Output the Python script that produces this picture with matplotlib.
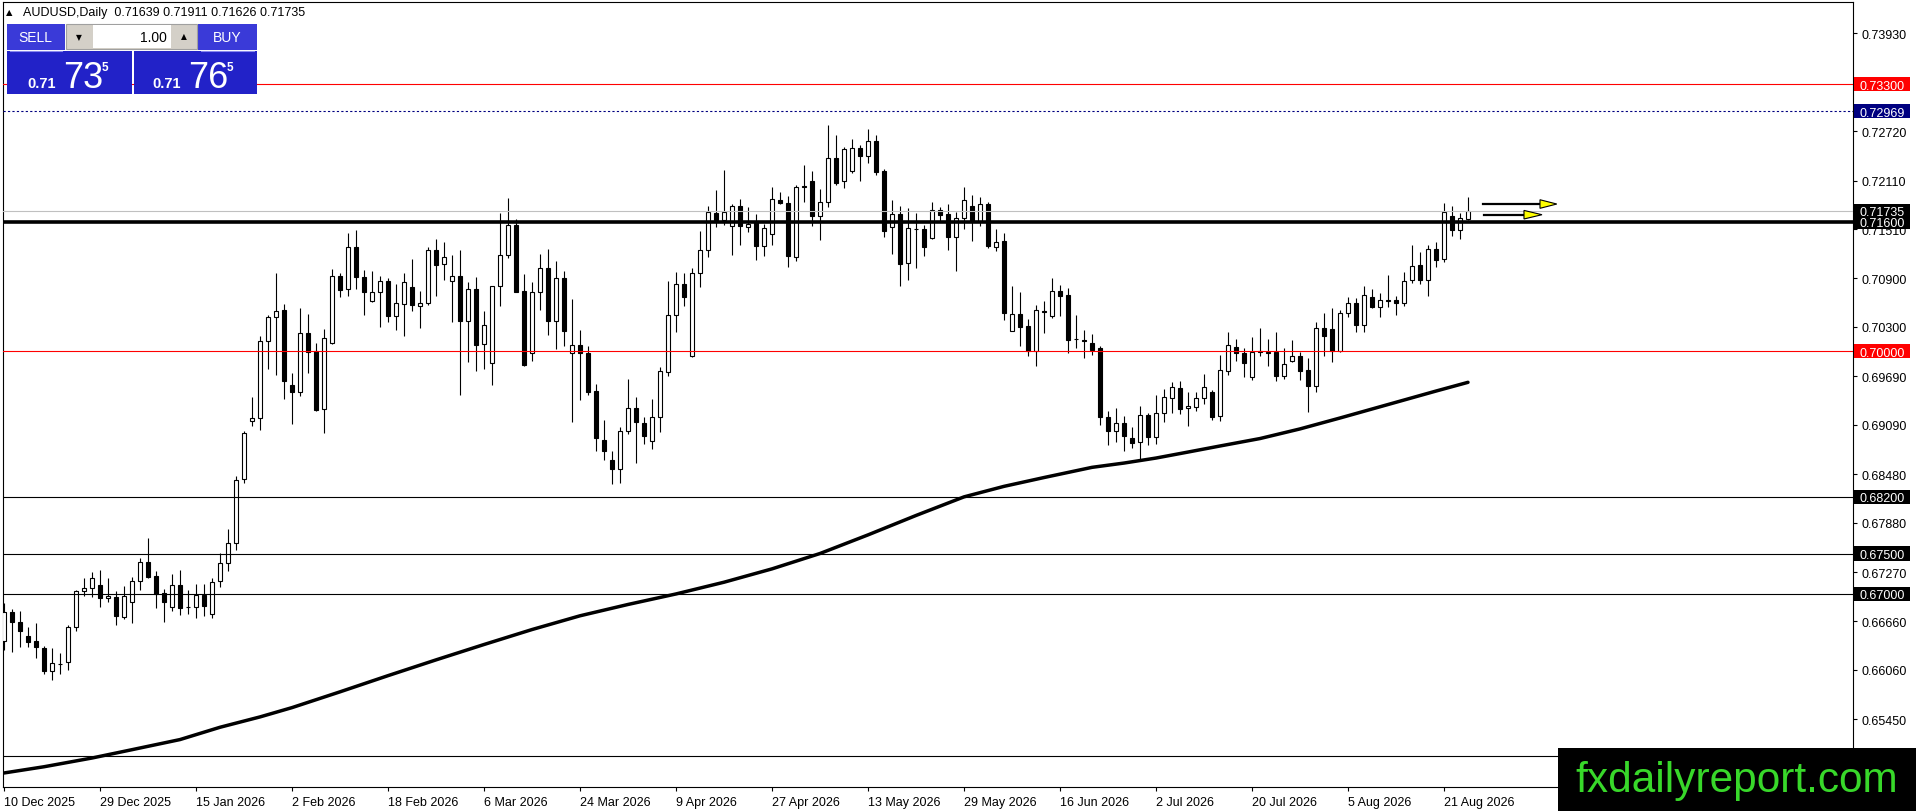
import matplotlib
matplotlib.use('Agg')
import matplotlib.pyplot as plt
from matplotlib.patches import Rectangle, Polygon
from matplotlib.transforms import blended_transform_factory
import numpy as np

plt.rcParams['font.family'] = ['Liberation Sans', 'DejaVu Sans']

# AUDUSD daily candles, first bar = 10 Dec 2025
opens = [
    0.66423, 0.66773, 0.66649, 0.66476, 0.66423, 0.66328, 0.66052, 0.66130,
    0.66155, 0.66588, 0.67033, 0.67070, 0.67111, 0.66946, 0.66958, 0.66719,
    0.66897, 0.67156, 0.67391, 0.67218, 0.67008, 0.66843, 0.67115, 0.66835,
    0.66835, 0.66987, 0.66752, 0.67156, 0.67379, 0.67626, 0.68421, 0.69142,
    0.69171, 0.70123, 0.70419, 0.70510, 0.69583, 0.69492, 0.70221, 0.69999,
    0.69286, 0.70098, 0.70934, 0.70769, 0.71284, 0.70914, 0.70617, 0.70728,
    0.70864, 0.70432, 0.70584, 0.70790, 0.70563, 0.70592, 0.71251, 0.71078,
    0.70864, 0.70926, 0.70370, 0.70769, 0.70090, 0.69855, 0.70802, 0.71189,
    0.71560, 0.70740, 0.69978, 0.70728, 0.71025, 0.70370, 0.70901, 0.69978,
    0.70081, 0.69978, 0.69504, 0.68907, 0.68656, 0.68544, 0.69010, 0.69294,
    0.69113, 0.68886, 0.69183, 0.69739, 0.70452, 0.70831, 0.69945, 0.70963,
    0.71251, 0.71704, 0.71622, 0.71544, 0.71791, 0.71531, 0.71593, 0.71297,
    0.71449, 0.71869, 0.71828, 0.71170, 0.72039, 0.72101, 0.71676, 0.71841,
    0.72385, 0.72101, 0.72233, 0.72513, 0.72418, 0.72595, 0.72224, 0.71532,
    0.71697, 0.71087, 0.71516, 0.71512, 0.71396, 0.71742, 0.71697, 0.71409,
    0.71643, 0.71792, 0.71615, 0.71821, 0.71293, 0.71363, 0.70255, 0.70461,
    0.70316, 0.70007, 0.70493, 0.70431, 0.70740, 0.70695, 0.70155, 0.70135,
    0.70102, 0.70036, 0.69183, 0.69018, 0.69113, 0.68928, 0.68882, 0.69212,
    0.68944, 0.69232, 0.69418, 0.69546, 0.69294, 0.69307, 0.69418, 0.69500,
    0.69204, 0.69760, 0.70048, 0.69974, 0.69677, 0.69999, 0.69991, 0.69987,
    0.69698, 0.69875, 0.69937, 0.69768, 0.69575, 0.70283, 0.70275, 0.70007,
    0.70469, 0.70592, 0.70329, 0.70666, 0.70551, 0.70629, 0.70633, 0.70596,
    0.70885, 0.71066, 0.70885, 0.71264, 0.71140, 0.71668, 0.71503, 0.71639,
]
highs = [
    0.66888, 0.66814, 0.66785, 0.66588, 0.66637, 0.66361, 0.66328, 0.66270,
    0.66621, 0.67049, 0.67197, 0.67276, 0.67296, 0.67197, 0.67033, 0.67094,
    0.67206, 0.67445, 0.67692, 0.67280, 0.67061, 0.67247, 0.67296, 0.67049,
    0.67123, 0.67123, 0.67197, 0.67502, 0.67803, 0.68462, 0.69010, 0.69430,
    0.70184, 0.70448, 0.70967, 0.70584, 0.69727, 0.70535, 0.70460, 0.70102,
    0.70275, 0.71017, 0.70963, 0.71462, 0.71499, 0.71004, 0.70988, 0.70926,
    0.70905, 0.70831, 0.70963, 0.71140, 0.70749, 0.71284, 0.71387, 0.71346,
    0.71190, 0.71251, 0.70852, 0.70914, 0.70493, 0.70802, 0.71709, 0.71894,
    0.71634, 0.70955, 0.70852, 0.71202, 0.71264, 0.71111, 0.70988, 0.70646,
    0.70262, 0.70061, 0.69595, 0.69150, 0.68771, 0.69059, 0.69657, 0.69430,
    0.69183, 0.69410, 0.69801, 0.70864, 0.70975, 0.70967, 0.71025, 0.71490,
    0.71799, 0.71993, 0.72240, 0.71820, 0.71882, 0.71779, 0.71696, 0.71573,
    0.72026, 0.71964, 0.71915, 0.72055, 0.72303, 0.72224, 0.72006, 0.72797,
    0.72673, 0.72521, 0.72624, 0.72550, 0.72748, 0.72673, 0.72253, 0.71870,
    0.71792, 0.71767, 0.71709, 0.71561, 0.71841, 0.71779, 0.71821, 0.71726,
    0.72035, 0.71936, 0.71903, 0.71841, 0.71512, 0.71462, 0.70803, 0.70729,
    0.70398, 0.70571, 0.70625, 0.70905, 0.70823, 0.70777, 0.70448, 0.70267,
    0.70213, 0.70061, 0.69265, 0.69298, 0.69204, 0.69059, 0.69327, 0.69232,
    0.69459, 0.69533, 0.69624, 0.69628, 0.69500, 0.69500, 0.69719, 0.69521,
    0.69953, 0.70242, 0.70151, 0.70036, 0.70172, 0.70287, 0.70151, 0.70234,
    0.70040, 0.70139, 0.69987, 0.69917, 0.70357, 0.70469, 0.70530, 0.70510,
    0.70675, 0.70654, 0.70802, 0.70769, 0.70716, 0.70942, 0.70687, 0.70975,
    0.71313, 0.71223, 0.71313, 0.71346, 0.71832, 0.71791, 0.71709, 0.71911,
]
lows = [
    0.66312, 0.66287, 0.66349, 0.66340, 0.66204, 0.66011, 0.65941, 0.66011,
    0.66064, 0.66546, 0.66979, 0.66958, 0.66843, 0.66905, 0.66621, 0.66691,
    0.66641, 0.67053, 0.67193, 0.66827, 0.66658, 0.66794, 0.66744, 0.66752,
    0.66699, 0.66732, 0.66699, 0.67090, 0.67288, 0.67548, 0.68367, 0.69080,
    0.69031, 0.69781, 0.69706, 0.69410, 0.69101, 0.69451, 0.69731, 0.69266,
    0.68990, 0.70090, 0.70666, 0.70687, 0.70769, 0.70452, 0.70605, 0.70304,
    0.70366, 0.70267, 0.70184, 0.70502, 0.70283, 0.70572, 0.70687, 0.70885,
    0.70366, 0.69463, 0.69871, 0.69760, 0.69781, 0.69587, 0.70555, 0.71148,
    0.70728, 0.69813, 0.69883, 0.70514, 0.70205, 0.70028, 0.70061, 0.69129,
    0.69401, 0.69459, 0.68771, 0.68660, 0.68359, 0.68367, 0.68977, 0.68619,
    0.68853, 0.68792, 0.69006, 0.69690, 0.70242, 0.70555, 0.69925, 0.70790,
    0.71169, 0.71540, 0.71564, 0.71194, 0.71317, 0.71470, 0.71132, 0.71173,
    0.71317, 0.71820, 0.71037, 0.71120, 0.71849, 0.71553, 0.71376, 0.71788,
    0.72055, 0.72018, 0.72204, 0.72109, 0.72327, 0.72183, 0.71417, 0.71203,
    0.70811, 0.70885, 0.71025, 0.71182, 0.71388, 0.71615, 0.71252, 0.70997,
    0.71512, 0.71367, 0.71553, 0.71273, 0.71244, 0.70391, 0.70255, 0.70070,
    0.69945, 0.69813, 0.70225, 0.70411, 0.70440, 0.69974, 0.70036, 0.69912,
    0.69958, 0.69092, 0.68845, 0.68882, 0.68771, 0.68800, 0.68668, 0.68845,
    0.68853, 0.69129, 0.69237, 0.69224, 0.69080, 0.69265, 0.69348, 0.69154,
    0.69142, 0.69706, 0.69883, 0.69686, 0.69649, 0.69945, 0.69822, 0.69636,
    0.69657, 0.69871, 0.69645, 0.69245, 0.69492, 0.69937, 0.69863, 0.69987,
    0.70419, 0.70242, 0.70242, 0.70530, 0.70419, 0.70543, 0.70452, 0.70563,
    0.70839, 0.70831, 0.70687, 0.71045, 0.71107, 0.71429, 0.71387, 0.71626,
]
closes = [
    0.66773, 0.66649, 0.66546, 0.66410, 0.66340, 0.66052, 0.66143, 0.66140,
    0.66588, 0.67033, 0.67070, 0.67193, 0.66946, 0.66971, 0.66732, 0.66971,
    0.67156, 0.67391, 0.67214, 0.67000, 0.66897, 0.67115, 0.66827, 0.66839,
    0.66991, 0.66855, 0.67144, 0.67379, 0.67626, 0.68413, 0.68985, 0.69171,
    0.70123, 0.70419, 0.70502, 0.69636, 0.69492, 0.70221, 0.69987, 0.69278,
    0.70160, 0.70934, 0.70761, 0.71284, 0.70914, 0.70736, 0.70728, 0.70872,
    0.70432, 0.70592, 0.70852, 0.70572, 0.70592, 0.71251, 0.71066, 0.71169,
    0.70934, 0.70370, 0.70769, 0.70081, 0.70324, 0.70802, 0.71189, 0.71560,
    0.70736, 0.69834, 0.70728, 0.71025, 0.70370, 0.70901, 0.70254, 0.70081,
    0.69978, 0.69500, 0.68923, 0.68763, 0.68544, 0.69010, 0.69294, 0.69121,
    0.68948, 0.69183, 0.69752, 0.70452, 0.70831, 0.70674, 0.70963, 0.71255,
    0.71717, 0.71622, 0.71717, 0.71791, 0.71544, 0.71573, 0.71297, 0.71523,
    0.71882, 0.71828, 0.71173, 0.72027, 0.72031, 0.71676, 0.71841, 0.72385,
    0.72080, 0.72500, 0.72513, 0.72410, 0.72595, 0.72220, 0.71491, 0.71697,
    0.71079, 0.71520, 0.71507, 0.71293, 0.71742, 0.71689, 0.71417, 0.71643,
    0.71870, 0.71615, 0.71821, 0.71306, 0.71347, 0.70473, 0.70461, 0.70304,
    0.70007, 0.70510, 0.70485, 0.70740, 0.70687, 0.70143, 0.70147, 0.70126,
    0.70019, 0.69183, 0.69018, 0.69113, 0.68956, 0.68866, 0.69212, 0.68944,
    0.69237, 0.69438, 0.69562, 0.69286, 0.69327, 0.69418, 0.69554, 0.69191,
    0.69768, 0.70077, 0.69974, 0.69850, 0.69986, 0.69991, 0.69982, 0.69690,
    0.69842, 0.69937, 0.69760, 0.69566, 0.70283, 0.70193, 0.69999, 0.70469,
    0.70592, 0.70329, 0.70699, 0.70551, 0.70633, 0.70621, 0.70596, 0.70864,
    0.71058, 0.70885, 0.71264, 0.71132, 0.71717, 0.71503, 0.71643, 0.71735,
]

# moving average, read at a number of bars
ma_bar = [0, 5, 11, 16, 22, 27, 32, 36, 42, 48, 54, 60, 66, 72, 78, 84, 90,
          96, 102, 108, 114, 120, 125, 130, 136, 140, 144, 148, 152, 157, 162,
          167, 171, 175, 179, 183]
ma_val = [0.64787, 0.64864, 0.64972, 0.65075, 0.65200, 0.65352, 0.65480,
          0.65595, 0.65790, 0.65990, 0.66185, 0.66375, 0.66560, 0.66730,
          0.66870, 0.67000, 0.67145, 0.67310, 0.67500, 0.67730, 0.67970,
          0.68200, 0.68330, 0.68439, 0.68565, 0.68618, 0.68680, 0.68754,
          0.68829, 0.68921, 0.69040, 0.69175, 0.69286, 0.69397, 0.69508,
          0.69616]

date_labels = ['10 Dec 2025', '29 Dec 2025', '15 Jan 2026', '2 Feb 2026',
               '18 Feb 2026', '6 Mar 2026', '24 Mar 2026', '9 Apr 2026',
               '27 Apr 2026', '13 May 2026', '29 May 2026', '16 Jun 2026',
               '2 Jul 2026', '20 Jul 2026', '5 Aug 2026', '21 Aug 2026']
price_ticks = [0.73930, 0.72720, 0.72110, 0.71510, 0.70900, 0.70300,
               0.69690, 0.69090, 0.68480, 0.67880, 0.67270, 0.66660, 0.66060,
               0.65450]

red_levels = [0.73300, 0.70000]
black_levels = [0.68200, 0.67500, 0.67000, 0.65000]
dotted_level = 0.72969
bid_level = 0.71735
key_level = 0.71600
level_boxes = [(0.73300, '#ff0000'), (0.72969, '#000080'), (0.71735, 'black'),
               (0.71600, 'black'), (0.70000, '#ff0000'), (0.68200, 'black'),
               (0.67500, 'black'), (0.67000, 'black'), (0.65000, 'black')]

# arrows drawn right of the last bar: level, line start, triangle base, tip
arrows = [(0.71820, 184.9, 192.0, 194.1), (0.71688, 185.0, 190.0, 192.25)]

W, H = 1916, 812
fig = plt.figure(figsize=(W / 100, H / 100), dpi=100)
ax = fig.add_axes([2.7 / W, 1 - 788.3 / H, 1850 / W, 785.6 / H])

o = np.array(opens); hi = np.array(highs); lo = np.array(lows); c = np.array(closes)
x = np.arange(len(o))
up = c >= o

ax.vlines(x, lo, hi, color='black', lw=0.8, zorder=2)
ax.bar(x, np.maximum(np.abs(c - o), 0.00003), bottom=np.minimum(o, c), width=0.5,
       color=np.where(up, 'white', 'black'), edgecolor='black', linewidth=0.8, zorder=3)

for lv in red_levels:
    ax.axhline(lv, color='#ff0000', lw=0.8, zorder=4)
for lv in black_levels:
    ax.axhline(lv, color='black', lw=0.8, zorder=4)
ax.axhline(dotted_level, color='#000080', lw=0.8, ls=(0, (2, 2)), zorder=4)
ax.axhline(bid_level, color='#c0c0c0', lw=0.8, zorder=4)
ax.axhline(key_level, color='black', lw=2.6, zorder=4)

ax.plot(ma_bar, ma_val, color='black', lw=2.5, solid_capstyle='round',
        solid_joinstyle='round', zorder=5)

for lv, x0, xb, xt in arrows:
    ax.plot([x0, xb], [lv, lv], color='black', lw=1.6, zorder=6)
    hh = 0.00053
    ax.add_patch(Polygon([(xb, lv + hh), (xb, lv - hh), (xt, lv)], closed=True,
                         facecolor='#ffff00', edgecolor='black', lw=0.8, zorder=7))

ax.set_xlim(-0.1625, 231.09)
ax.set_ylim(0.64610, 0.74321)

ax.yaxis.tick_right()
ax.set_yticks(price_ticks)
ax.set_yticklabels([f'{v:.5f}' for v in price_ticks])
ax.tick_params(axis='y', length=3, width=0.8, pad=3, labelsize=9, direction='out')
ax.set_xticks(np.arange(0, 12 * len(date_labels), 12))
ax.set_xticklabels(date_labels)
ax.tick_params(axis='x', length=3, width=0.8, pad=3, labelsize=9, direction='out')
for lbl in ax.get_xticklabels():
    lbl.set_horizontalalignment('left')
for sp in ax.spines.values():
    sp.set_linewidth(0.8)
    sp.set_color('black')

tr = blended_transform_factory(ax.transAxes, ax.transData)
bx0 = (1854 - 2.7) / 1850
bw = 56 / 1850
tx = (1859 - 2.7) / 1850
for lv, col in level_boxes:
    ax.add_patch(Rectangle((bx0, lv - 0.00087), bw, 0.00174, transform=tr,
                           facecolor=col, edgecolor='none', clip_on=False, zorder=8))
    ax.text(tx, lv, f'{lv:.5f}', transform=tr, color='white', fontsize=9,
            ha='left', va='center_baseline', clip_on=False, zorder=9)

# overlay in pixel coordinates for panel, header and watermark
ov = fig.add_axes([0, 0, 1, 1], zorder=10)
ov.set_xlim(0, W)
ov.set_ylim(H, 0)
ov.axis('off')
ov.patch.set_alpha(0)

ov.text(9, 13, '\u25B2', fontsize=6, ha='center', va='center', family=['DejaVu Sans'])
ov.text(23, 13, 'AUDUSD,Daily  0.71639 0.71911 0.71626 0.71735', fontsize=9,
        ha='left', va='center')

btn = '#3a3ad8'
big = '#2222c8'
ov.add_patch(Rectangle((7, 25), 58, 26, facecolor=btn, edgecolor='none'))
ov.add_patch(Rectangle((198, 25), 59, 26, facecolor=btn, edgecolor='none'))
ov.plot([10, 62], [51.5, 51.5], color='#8888ee', lw=0.8)
ov.plot([201, 254], [51.5, 51.5], color='#8888ee', lw=0.8)
ov.add_patch(Rectangle((66, 25), 131, 25, facecolor='#d4d0c8', edgecolor='#a0a0a0', lw=0.8))
ov.add_patch(Rectangle((93, 26), 78, 23, facecolor='white', edgecolor='none'))
ov.text(35, 38, 'SELL', color='white', fontsize=10, ha='center', va='center')
ov.text(227, 38, 'BUY', color='white', fontsize=10, ha='center', va='center')
ov.text(79, 38, '\u25BC', fontsize=5.5, ha='center', va='center', family=['DejaVu Sans'])
ov.text(184, 37, '\u25B2', fontsize=5.5, ha='center', va='center', family=['DejaVu Sans'])
ov.text(167, 38, '1.00', fontsize=10, ha='right', va='center')

ov.add_patch(Rectangle((7, 52), 125, 43, facecolor=big, edgecolor='none'))
ov.add_patch(Rectangle((134, 52), 123, 43, facecolor=big, edgecolor='none'))
for x0, big_txt in [(27, '73'), (152, '76')]:
    ov.text(x0, 88, '0.71', color='white', fontsize=10.5, fontweight='bold',
            ha='left', va='baseline')
    ov.text(x0 + 36, 88, big_txt, color='white', fontsize=26, ha='left', va='baseline')
    ov.text(x0 + 75, 71, '5', color='white', fontsize=8.5, fontweight='bold',
            ha='left', va='baseline')

ov.add_patch(Rectangle((1558, 749), 358, 63, facecolor='black', edgecolor='none'))
ov.text(1575, 792, 'fxdailyreport.com', color='#38d82a', fontsize=30.5,
        ha='left', va='baseline')

fig.savefig('out.png', dpi=100)
